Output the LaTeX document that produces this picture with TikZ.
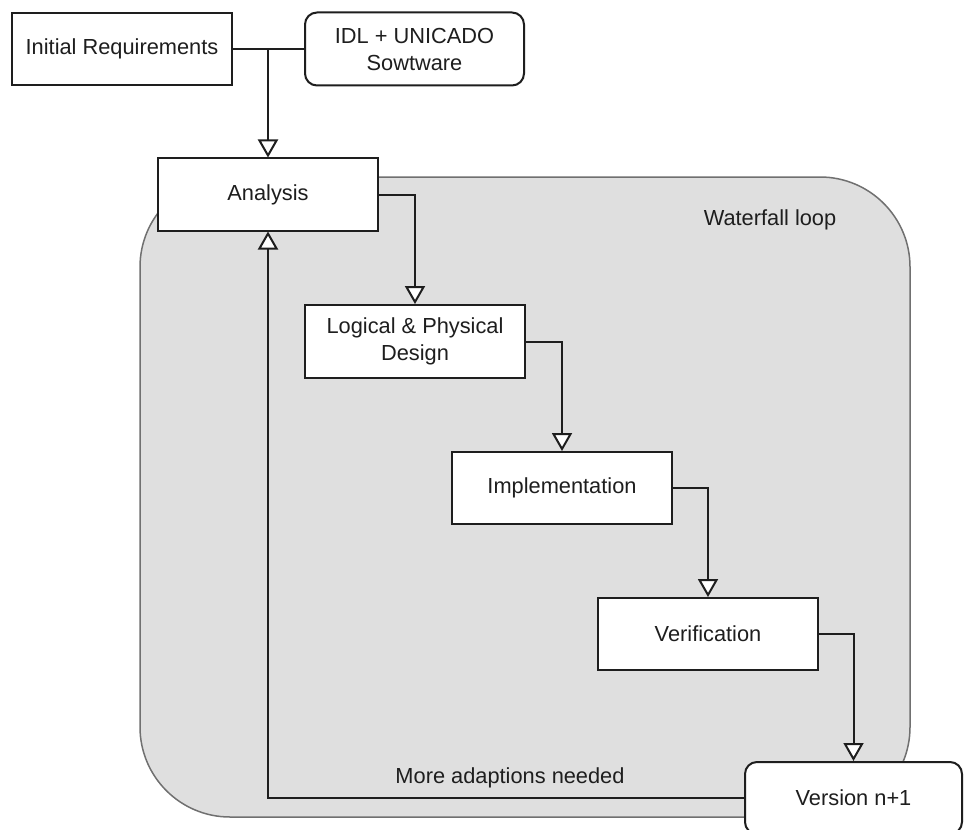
\documentclass[tikz,border=0pt]{standalone}
\usepackage{fontspec}
\setmainfont{Liberation Sans}
\usetikzlibrary{arrows.meta}
\definecolor{loopfill}{HTML}{DFDFDF}
\definecolor{loopedge}{HTML}{707070}
\definecolor{ink}{HTML}{1E1E1E}
\tikzset{
  box/.style={draw=ink, line width=2pt, fill=white, minimum width=220pt, minimum height=72pt, inner sep=0pt, align=center, font=\fontsize{21.8}{27}\selectfont, text=ink},
  rbox/.style={box, rounded corners=12pt},
  flow/.style={draw=ink, line width=2pt, -{Triangle[open, length=18pt, width=20pt, fill=white]}},
  plain/.style={draw=ink, line width=2pt},
  lbl/.style={font=\fontsize{21.8}{27}\selectfont, text=ink, inner sep=0pt}
}
\begin{document}
\begin{tikzpicture}[x=1pt, y=-1pt]
\useasboundingbox (0,0) rectangle (965,829);
\fill[white] (0,0) rectangle (965,829);
% waterfall loop region
\draw[fill=loopfill, draw=loopedge, line width=1.5pt, rounded corners=90pt] (140,177) rectangle (910,817);
\node[lbl] (wl) at (770,220) {Waterfall loop};

\node[box] (ir) at (122,49) {Initial Requirements};
\node[rbox, minimum width=219pt, minimum height=73pt] (idl) at (414.5,49) {IDL + UNICADO\\Sowtware};
\node[box] (an) at (268,194.5) {Analysis};
\node[box, minimum height=73pt] (lp) at (415,341.5) {Logical \& Physical\\Design};
\node[box] (im) at (562,488) {Implementation};
\node[box] (ve) at (708,634) {Verification};
\node[rbox, minimum width=217pt] (vn) at (853.5,798) {Version n+1};

\coordinate (j) at (ir.east -| an.north);
\draw[plain] (ir.east) -- (idl.west);
\draw[flow] (j) -- (an.north);
\draw[flow] (an.east) -| (lp.north);
\draw[flow] (lp.east) -| (im.north);
\draw[flow] (im.east) -| (ve.north);
\draw[flow] (ve.east) -| (vn.north);
\draw[flow] (vn.west) -| (an.south);
\node[lbl] (ma) at (510,778) {More adaptions needed};
\end{tikzpicture}
\end{document}
